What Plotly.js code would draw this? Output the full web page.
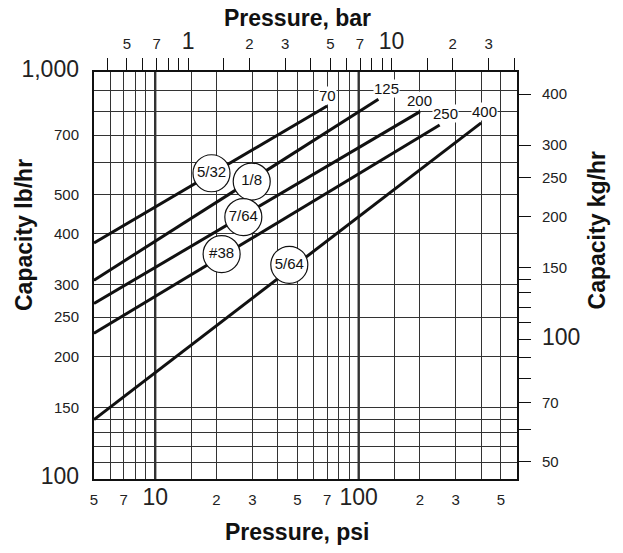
<!DOCTYPE html>
<html>
<head>
<meta charset="utf-8">
<script src="https://cdn.plot.ly/plotly-3.0.1.min.js"></script>
<style>
  html, body { margin: 0; padding: 0; background: #fff; }
  #chart { width: 623px; height: 553px; }
</style>
</head>
<body>
<div id="chart"></div>
<script>
// orifice lines: capacity at 5 psi and at the max pressure of each orifice
const orifices = ['5/32', '1/8', '7/64', '#38', '5/64'];
const startPsi = [5, 5, 5, 5, 5];
const maxPsi = [70, 125, 200, 250, 400];
const capStart = [380, 308, 270, 228, 140];
const capEnd = [825, 857, 799, 741, 750];

// where the round orifice tags sit
const tagPsi = [18.9, 29.8, 27.1, 21.2, 45.6];
const tagCap = [564, 538, 440, 357, 336];

// axes
const psiTicks = [5, 6, 7, 8, 9, 10, 15, 20, 30, 40, 50, 60, 70, 80, 90, 100, 150, 200, 300, 400, 500];
const psiLabels = ['5', '', '7', '', '', '10', '', '2', '3', '', '5', '', '7', '', '', '100', '', '2', '3', '', '5'];
const lbTicks = [100, 110, 120, 130, 140, 150, 200, 250, 300, 400, 500, 600, 700, 800, 900, 1000];
const lbLabels = ['100', '', '', '', '', '150', '200', '250', '300', '400', '500', '', '700', '', '', '1,000'];
const barTicks = [0.4, 0.5, 0.6, 0.7, 0.8, 0.9, 1, 1.5, 2, 3, 4, 5, 6, 7, 8, 9, 10, 15, 20, 30, 40];
const barLabels = ['', '5', '', '7', '', '', '1', '', '2', '3', '', '5', '', '7', '', '', '10', '', '2', '3', ''];
const kgTicks = [50, 60, 70, 80, 90, 100, 110, 120, 130, 140, 150, 200, 250, 300, 400];
const kgLabels = ['50', '', '70', '', '', '100', '', '', '', '', '150', '200', '250', '300', '400'];
const bigLabels = ['1,000', '100', '10', '1'];
const heavyPsi = [10, 100];

const PSI_PER_BAR = 14.5038;
const KG_PER_LB = 0.45359;
const psiRange = [5, 600];
const lbRange = [100, 1000];

const FONT = '"Liberation Sans", Arial, sans-serif';
const lg = Math.log10;

function big(labels) {
    return labels.map(t => bigLabels.includes(t) ? `<span style="font-size:23px">${t}</span>` : t);
}

let traces = [];
orifices.forEach((name, i) => {
    traces.push({
        x: [startPsi[i], maxPsi[i]], y: [capStart[i], capEnd[i]],
        type: 'scatter', mode: 'lines', name: name,
        line: {color: '#111', width: 3}, hoverinfo: 'skip', showlegend: false
    });
});
traces.push({
    x: tagPsi, y: tagCap, text: orifices,
    type: 'scatter', mode: 'markers+text', textposition: 'middle center',
    marker: {size: 37, color: '#fff', line: {color: '#111', width: 1.2}},
    textfont: {family: FONT, size: 15, color: '#111'},
    hoverinfo: 'skip', showlegend: false
});
// carries the bar / kg axes
traces.push({x: [], y: [], xaxis: 'x2', yaxis: 'y2', type: 'scatter', showlegend: false});

// pressure labels at the end of each line
const endShift = [0, 8, 0, 6, 3];
let annotations = maxPsi.map((p, i) => ({
    x: lg(p), y: lg(capEnd[i]), xref: 'x', yref: 'y',
    text: String(p), showarrow: false, xshift: endShift[i], yshift: 11,
    bgcolor: '#fff', borderpad: 0,
    font: {family: FONT, size: 15, color: '#111'}
}));
const titleFont = {family: FONT, size: 23, color: '#111'};
function title(text, x, y, angle) {
    return {text: `<b>${text}</b>`, xref: 'paper', yref: 'paper', x: x, y: y,
            xanchor: 'center', yanchor: 'middle', textangle: angle || 0,
            showarrow: false, font: titleFont};
}
annotations.push(
    title('Pressure, bar', 0.482, 1.133),
    title('Pressure, psi', 0.481, -0.130),
    title('Capacity lb/hr', -0.165, 0.600, -90),
    title('Capacity kg/hr', 1.189, 0.613, -90)
);

let shapes = heavyPsi.map(p => ({
    type: 'line', xref: 'x', yref: 'paper', x0: p, x1: p, y0: 0, y1: 1,
    line: {color: '#111', width: 2.2}, layer: 'below'
}));

const tickFont = {family: FONT, size: 15, color: '#222'};
let layout = {
    width: 623, height: 553,
    margin: {l: 94, r: 106, t: 72, b: 74},
    paper_bgcolor: '#fff', plot_bgcolor: '#fff',
    showlegend: false,
    xaxis: {
        type: 'log', range: psiRange.map(lg),
        tickmode: 'array', tickvals: psiTicks, ticktext: big(psiLabels),
        ticks: '', ticklabelstandoff: 6, tickfont: tickFont,
        showgrid: true, gridcolor: '#333', gridwidth: 1,
        showline: true, linecolor: '#111', linewidth: 2, mirror: true,
        zeroline: false
    },
    yaxis: {
        type: 'log', range: lbRange.map(lg),
        tickmode: 'array', tickvals: lbTicks, ticktext: big(lbLabels),
        ticks: '', ticklabelstandoff: 10, tickfont: tickFont,
        showgrid: true, gridcolor: '#333', gridwidth: 1,
        showline: true, linecolor: '#111', linewidth: 2, mirror: true,
        zeroline: false
    },
    xaxis2: {
        type: 'log', overlaying: 'x', side: 'top', anchor: 'y',
        range: psiRange.map(v => lg(v / PSI_PER_BAR)),
        tickmode: 'array', tickvals: barTicks, ticktext: big(barLabels),
        ticks: 'outside', ticklen: 13, tickwidth: 1, tickcolor: '#111',
        ticklabelstandoff: 3, tickfont: tickFont,
        showgrid: false, showline: false, zeroline: false
    },
    yaxis2: {
        type: 'log', overlaying: 'y', side: 'right', anchor: 'x',
        range: lbRange.map(v => lg(v * KG_PER_LB)),
        tickmode: 'array', tickvals: kgTicks, ticktext: big(kgLabels),
        ticks: 'outside', ticklen: 13, tickwidth: 1, tickcolor: '#111',
        ticklabelstandoff: 8, tickfont: tickFont,
        showgrid: false, showline: false, zeroline: false
    },
    annotations: annotations,
    shapes: shapes
};

Plotly.newPlot('chart', traces, layout, {staticPlot: true, displayModeBar: false});
</script>
</body>
</html>
